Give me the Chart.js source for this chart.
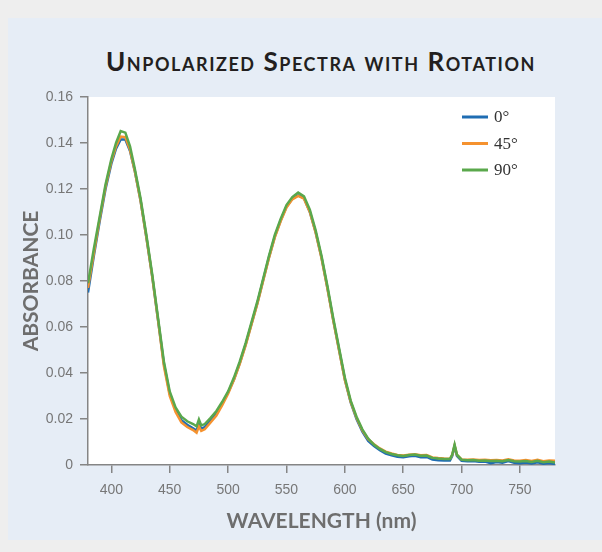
<!DOCTYPE html>
<html>
<head>
<meta charset="utf-8">
<script src="https://cdn.jsdelivr.net/npm/chart.js@4"></script>
<style>
  body { margin: 0; background: #eeeeee; width: 602px; height: 552px; overflow: hidden; position: relative; }
  #panel { position: absolute; left: 8px; top: 18px; width: 594px; height: 522px; background: #e6edf6; }
  #title {
    position: absolute; left: 0; top: 47px; width: 642px; text-align: center;
    font-family: 'Lato', sans-serif; font-weight: bold; font-size: 26px; line-height: 28px;
    letter-spacing: 1.55px; font-variant: small-caps; color: #231f20;
  }
  #chart { position: absolute; left: 0; top: 0; }
</style>
</head>
<body>
<div id="panel"></div>
<div id="title">Unpolarized Spectra with Rotation</div>
<canvas id="chart" width="602" height="552"></canvas>
<script>
const wavelengths = [
    380, 385, 390, 395, 400, 404, 408, 412, 416, 420, 425, 430, 435, 440,
    445, 450, 455, 460, 465, 470, 473, 475, 477, 480, 485, 490, 495, 500,
    505, 510, 515, 520, 525, 530, 535, 540, 545, 550, 555, 560, 565, 570, 575, 580, 585, 590, 595, 600, 605, 610, 615, 620,
    625, 630, 635, 640, 645, 650, 655, 660, 665, 670, 675, 680, 685, 690,
    692, 694, 696, 700, 705, 710, 715, 720, 725, 730, 735, 740, 745, 750, 755, 760, 765, 770, 775, 780
];

const abs0 = [
    0.075, 0.091, 0.106, 0.120, 0.131, 0.1375, 0.1415, 0.1415, 0.1365, 0.128, 0.115, 0.099, 0.082, 0.063,
    0.044, 0.031, 0.024, 0.0195, 0.0175, 0.016, 0.015, 0.0178, 0.0158, 0.0165, 0.0195, 0.0225, 0.0268, 0.0315,
    0.0372, 0.0443, 0.0523, 0.0613, 0.0703, 0.0803, 0.0903, 0.0993, 0.1063, 0.1123, 0.1158, 0.1172, 0.116, 0.110, 0.1012, 0.0902, 0.0772, 0.0632, 0.0502, 0.0372, 0.0272, 0.020, 0.0145, 0.0105,
    0.0082, 0.0064, 0.0050, 0.0042, 0.0036, 0.0034, 0.0038, 0.0040, 0.0034, 0.0035, 0.0024, 0.0021, 0.0020, 0.0020,
    0.0040, 0.0082, 0.0040, 0.0018, 0.0016, 0.0017, 0.0014, 0.0015, 0.0008, 0.0013, 0.0010, 0.0017, 0.0010, 0.0008, 0.0011, 0.0007, 0.0012, 0.0006, 0.0009, 0.0004
];

const abs45 = [
    0.077, 0.092, 0.107, 0.121, 0.132, 0.1385, 0.1428, 0.1425, 0.137, 0.128, 0.115, 0.099, 0.082, 0.063,
    0.043, 0.030, 0.023, 0.0185, 0.0165, 0.0152, 0.014, 0.0168, 0.0148, 0.0155, 0.0185, 0.0215, 0.026, 0.031,
    0.037, 0.044, 0.052, 0.061, 0.070, 0.080, 0.090, 0.099, 0.106, 0.112, 0.1155, 0.117, 0.1158, 0.110, 0.101, 0.090, 0.077, 0.063, 0.050, 0.037, 0.0275, 0.0205, 0.015, 0.0112,
    0.0090, 0.0072, 0.0058, 0.0050, 0.0044, 0.0041, 0.0045, 0.0047, 0.0042, 0.0043, 0.0033, 0.0030, 0.0028, 0.0027,
    0.0044, 0.0085, 0.0044, 0.0024, 0.0023, 0.0024, 0.0022, 0.0023, 0.0021, 0.0022, 0.0020, 0.0025, 0.0020, 0.0019, 0.0022, 0.0018, 0.0023, 0.0016, 0.0020, 0.0018
];

const abs90 = [
    0.079, 0.094, 0.108, 0.122, 0.133, 0.140, 0.1452, 0.1445, 0.1385, 0.129, 0.116, 0.100, 0.083, 0.064,
    0.045, 0.032, 0.025, 0.021, 0.019, 0.0178, 0.0168, 0.0198, 0.0172, 0.0178, 0.0205, 0.0235, 0.0275, 0.032,
    0.038, 0.045, 0.053, 0.062, 0.071, 0.081, 0.091, 0.100, 0.107, 0.113, 0.1165, 0.1185, 0.1168, 0.111, 0.102, 0.091, 0.078, 0.064, 0.051, 0.038, 0.028, 0.021, 0.0155, 0.0115,
    0.0088, 0.0070, 0.0056, 0.0048, 0.0042, 0.0039, 0.0043, 0.0046, 0.0040, 0.0041, 0.0031, 0.0028, 0.0026, 0.0026,
    0.0045, 0.0088, 0.0045, 0.0023, 0.0021, 0.0022, 0.0019, 0.0020, 0.0017, 0.0018, 0.0016, 0.0022, 0.0016, 0.0015, 0.0017, 0.0013, 0.0018, 0.0012, 0.0015, 0.0011
];

const seriesLabels = ['0°', '45°', '90°'];
const seriesColors = ['#1f6db3', '#f5922f', '#5aa84c'];
const xTicks = [400, 450, 500, 550, 600, 650, 700, 750];
const yTicks = [0, 0.02, 0.04, 0.06, 0.08, 0.10, 0.12, 0.14, 0.16];

const toPoints = vals => wavelengths.map((w, i) => ({ x: w, y: vals[i] }));

// white plot area behind the lines
const plotBg = {
    id: 'plotBg',
    beforeDraw(chart) {
        const { ctx, chartArea: a } = chart;
        ctx.save();
        ctx.fillStyle = '#ffffff';
        ctx.fillRect(a.left, a.top, a.right - a.left, a.bottom - a.top);
        ctx.restore();
    }
};

// legend sits inside the plot, top right
const innerLegend = {
    id: 'innerLegend',
    afterDraw(chart) {
        const { ctx, chartArea: a } = chart;
        ctx.save();
        ctx.font = '17px "Liberation Serif", serif';
        ctx.textBaseline = 'middle';
        chart.data.datasets.forEach((ds, i) => {
            const y = a.top + 20 + i * 26.5;
            const x = a.right - 93;
            ctx.strokeStyle = ds.borderColor;
            ctx.lineWidth = 3;
            ctx.beginPath();
            ctx.moveTo(x, y);
            ctx.lineTo(x + 26, y);
            ctx.stroke();
            ctx.fillStyle = '#333333';
            ctx.fillText(ds.label, x + 32, y + 1);
        });
        ctx.restore();
    }
};

const axisColor = '#858585';
const tickFont = { family: '"Liberation Sans", Arial, sans-serif', size: 14 };
const titleFont = { family: 'Lato, sans-serif', size: 21, weight: 'bold' };

new Chart(document.getElementById('chart'), {
    type: 'line',
    data: {
        datasets: [abs0, abs45, abs90].map((vals, i) => ({
            label: seriesLabels[i],
            data: toPoints(vals),
            borderColor: seriesColors[i],
            backgroundColor: seriesColors[i],
            borderWidth: 2.5,
            pointRadius: 0,
            tension: 0,
            order: 3 - i
        }))
    },
    options: {
        responsive: false,
        animation: false,
        layout: { padding: { top: 97, right: 47, bottom: 0, left: 0 } },
        plugins: {
            legend: { display: false },
            tooltip: { enabled: false }
        },
        scales: {
            x: {
                type: 'linear',
                min: 380,
                max: 780,
                afterFit: s => { s.height = 87; },
                afterBuildTicks: s => { s.ticks = xTicks.map(v => ({ value: v })); },
                grid: { drawOnChartArea: false, tickLength: 8, color: axisColor, lineWidth: 1.5 },
                border: { color: axisColor, width: 1.5 },
                ticks: { color: '#777777', font: tickFont, padding: 9, maxRotation: 0 },
                title: {
                    display: true, text: 'WAVELENGTH (nm)', color: '#6e6e6e', font: titleFont,
                    padding: { top: 0, bottom: 18 }
                }
            },
            y: {
                type: 'linear',
                min: 0,
                max: 0.16,
                afterFit: s => { s.width = 88; },
                afterBuildTicks: s => { s.ticks = yTicks.map(v => ({ value: v })); },
                grid: { drawOnChartArea: false, tickLength: 8, color: axisColor, lineWidth: 1.5 },
                border: { color: axisColor, width: 1.5 },
                ticks: {
                    color: '#777777', font: tickFont, padding: 7,
                    callback: v => v === 0 ? '0' : v.toFixed(2)
                },
                title: {
                    display: true, text: 'ABSORBANCE', color: '#6e6e6e', font: titleFont,
                    padding: { top: 19, bottom: 0 }
                }
            }
        }
    },
    plugins: [plotBg, innerLegend]
});
</script>
</body>
</html>
